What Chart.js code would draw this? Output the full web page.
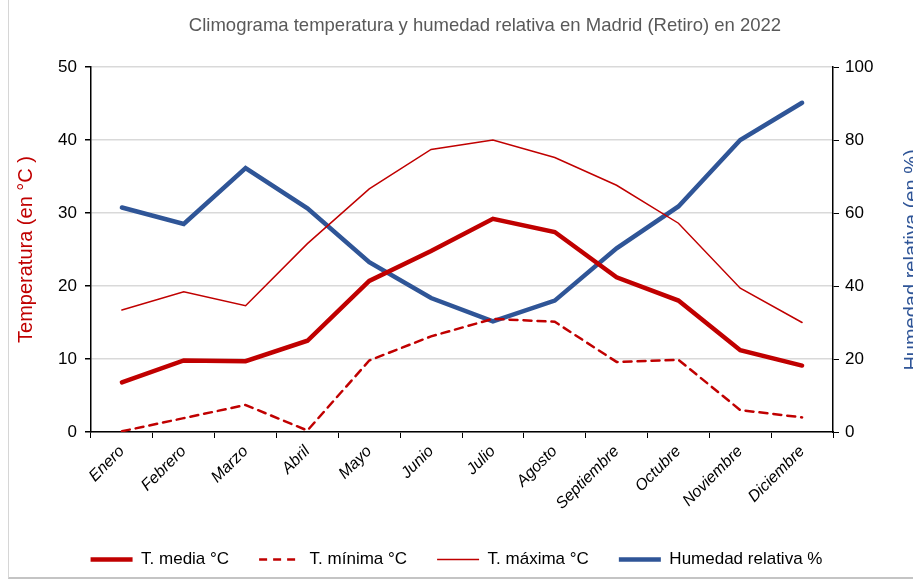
<!DOCTYPE html>
<html lang="es">
<head>
<meta charset="UTF-8">
<title>Climograma Madrid (Retiro) 2022</title>
<style>
    * { margin: 0; padding: 0; box-sizing: border-box; }
    body { background: #fff; width: 913px; height: 581px; overflow: hidden; position: relative; }
    #marco {
        position: absolute; left: 8px; top: -2px; width: 920px; height: 581px;
        border-left: 1px solid #d6d6d6; border-bottom: 2px solid #c4c4c4;
        pointer-events: none;
    }
    canvas { position: absolute; left: 0; top: 0; }
</style>
</head>
<body>
<canvas id="climograma" width="913" height="581"></canvas>
<div id="marco"></div>

<script src="https://cdn.jsdelivr.net/npm/chart.js"></script>
<script>
    // datos 2022
    const meses = ['Enero', 'Febrero', 'Marzo', 'Abril', 'Mayo', 'Junio', 'Julio',
        'Agosto', 'Septiembre', 'Octubre', 'Noviembre', 'Diciembre'];
    const tMedia = [6.8, 9.8, 9.7, 12.5, 20.7, 24.8, 29.2, 27.4, 21.2, 18.0, 11.2, 9.1];
    const tMinima = [0.1, 1.9, 3.7, 0.2, 9.8, 13.1, 15.5, 15.1, 9.6, 9.9, 3.0, 2.0];
    const tMaxima = [16.7, 19.2, 17.3, 25.8, 33.3, 38.7, 40.0, 37.6, 33.8, 28.6, 19.7, 15.0];
    const humedad = [61.5, 57.0, 72.3, 61.3, 46.5, 36.7, 30.3, 36.0, 50.3, 61.8, 80.0, 90.2];

    const rojo = '#c00000';
    const azul = '#2f5597';
    const fuente = 'Liberation Sans, Arial, sans-serif';

    // título principal y título del eje derecho (este va cortado por el borde, como en el original)
    const textosExtra = {
        id: 'textosExtra',
        afterDraw(chart) {
            const ctx = chart.ctx;
            ctx.save();
            ctx.font = '18.5px ' + fuente;
            ctx.fillStyle = '#595959';
            ctx.textAlign = 'center';
            ctx.textBaseline = 'middle';
            ctx.fillText('Climograma temperatura y humedad relativa en Madrid (Retiro) en 2022', 485, 26);

            ctx.translate(912, 260);
            ctx.rotate(-Math.PI / 2);
            ctx.font = '20px ' + fuente;
            ctx.fillStyle = azul;
            ctx.fillText('Humedad relativa (en %)', 0, 0);
            ctx.restore();
        }
    };

    const ctx = document.getElementById('climograma').getContext('2d');

    new Chart(ctx, {
        type: 'line',
        data: {
            labels: meses,
            datasets: [
                { label: 'T. media °C', data: tMedia, borderColor: rojo, backgroundColor: rojo,
                  borderWidth: 4.5, yAxisID: 'y' },
                { label: 'T. mínima °C', data: tMinima, borderColor: rojo, backgroundColor: rojo,
                  borderWidth: 2.5, borderDash: [8, 6], yAxisID: 'y' },
                { label: 'T. máxima °C', data: tMaxima, borderColor: rojo, backgroundColor: rojo,
                  borderWidth: 1.5, yAxisID: 'y' },
                { label: 'Humedad relativa %', data: humedad, borderColor: azul, backgroundColor: azul,
                  borderWidth: 4.5, yAxisID: 'y2' }
            ]
        },
        options: {
            responsive: false,
            animation: false,
            devicePixelRatio: 1,
            elements: { point: { radius: 0 }, line: { tension: 0, borderCapStyle: 'round' } },
            layout: { padding: { left: 0, right: 0, top: 67, bottom: 3 } },
            plugins: {
                title: { display: false },
                legend: {
                    position: 'bottom',
                    labels: {
                        usePointStyle: true,
                        pointStyle: 'line',
                        pointStyleWidth: 42,
                        boxHeight: 4,
                        padding: 30,
                        color: '#000',
                        font: { family: fuente, size: 17 },
                        generateLabels(chart) {
                            const items = Chart.defaults.plugins.legend.labels.generateLabels(chart);
                            items.forEach(it => {
                                const ds = chart.data.datasets[it.datasetIndex];
                                it.lineWidth = ds.borderWidth;
                                it.lineDash = ds.borderDash || [];
                                it.lineCap = 'butt';
                            });
                            return items;
                        }
                    }
                },
                tooltip: { enabled: false }
            },
            scales: {
                x: {
                    offset: true,
                    grid: { offset: true, drawOnChartArea: false, drawTicks: true, tickLength: 6, color: '#000' },
                    border: { color: '#000', width: 1.5 },
                    ticks: {
                        autoSkip: false, maxRotation: 45, minRotation: 45, padding: 4,
                        color: '#000',
                        font: { family: fuente, size: 16, style: 'italic' }
                    },
                    afterFit(scale) { scale.height = 89; }
                },
                y: {
                    position: 'left',
                    min: 0, max: 50,
                    ticks: { stepSize: 10, padding: 8, color: '#000', font: { family: fuente, size: 17 } },
                    grid: { color: '#d9d9d9', lineWidth: 1.5, tickColor: '#000', tickLength: 6 },
                    border: { color: '#000', width: 1.5 },
                    title: {
                        display: true,
                        text: 'Temperatura (en °C )',
                        color: rojo,
                        font: { family: fuente, size: 20 },
                        padding: { top: 14, bottom: 0 }
                    },
                    afterFit(scale) { scale.width = 91; }
                },
                y2: {
                    position: 'right',
                    min: 0, max: 100,
                    ticks: { stepSize: 20, padding: 6, color: '#000', font: { family: fuente, size: 17 } },
                    grid: { drawOnChartArea: false, tickColor: '#000', tickLength: 6 },
                    border: { color: '#000', width: 1.5 },
                    afterFit(scale) { scale.width = 80; }
                }
            }
        },
        plugins: [textosExtra]
    });
</script>
</body>
</html>
